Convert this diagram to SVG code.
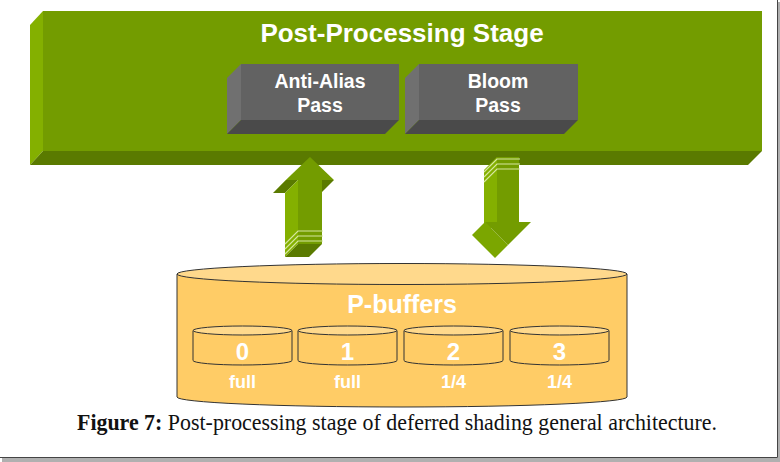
<svg xmlns="http://www.w3.org/2000/svg" width="780" height="462" viewBox="0 0 780 462">
<style>
.gf{fill:#739c00}
.gl{fill:#84b000}
.gd{fill:#5a7a00}
.gm{fill:#7ba600}
.bf{fill:#626262}
.bl{fill:#707070}
.bd{fill:#4a4a4a}
.t{font-family:"Liberation Sans",Arial,sans-serif;font-weight:bold;fill:#ffffff;text-anchor:middle}
.cyl{fill:#ffcc66;stroke:#333;stroke-width:1}
.cyltop{fill:#ffd98c;stroke:#333;stroke-width:1}
.stripe{fill:none;stroke:#d6e6a0;stroke-width:1.2}
</style>
<rect width="780" height="462" fill="#ffffff"/>

<g id="stage">
  <polygon class="gl" points="43,11 43,151 30,165 30,25"/>
  <polygon class="gd" points="43,151 762,151 748,165 30,165"/>
  <rect class="gf" x="43" y="11" width="719" height="140"/>
  <text class="t" x="402" y="42" font-size="26">Post-Processing Stage</text>
</g>

<g id="antialias">
  <polygon class="bl" points="241,64 241,120 227,134 227,78"/>
  <polygon class="bd" points="241,120 399,120 385,134 227,134"/>
  <rect class="bf" x="241" y="64" width="158" height="56"/>
  <text class="t" x="320" y="88" font-size="19.5">Anti-Alias</text>
  <text class="t" x="320" y="112" font-size="19.5">Pass</text>
</g>

<g id="bloom">
  <polygon class="bl" points="419,64 419,120 405,134 405,78"/>
  <polygon class="bd" points="419,120 578,120 564,134 405,134"/>
  <rect class="bf" x="419" y="64" width="159" height="56"/>
  <text class="t" x="498" y="88" font-size="19.5">Bloom</text>
  <text class="t" x="498" y="112" font-size="19.5">Pass</text>
</g>

<g id="connectors">
  <g id="arrow-up">
    <polygon class="gl" points="310,157 286,180 273,193 297,170"/>
    <polygon class="gd" points="286,180 298,180 285,193 273,193"/>
    <polygon class="gd" points="322,180 334,180 321,193 309,193"/>
    <polygon class="gl" points="298,180 298,244 285,257 285,193"/>
    <polygon class="gd" points="298,244 322,244 309,257 285,257"/>
    <polygon class="gf" points="310,157 334,180 322,180 322,244 298,244 298,180 286,180"/>
    <polyline class="stripe" points="285,244 298,231 323,231"/>
    <polyline class="stripe" points="285,249 298,236 323,236"/>
    <polyline class="stripe" points="285,254 298,241 323,241"/>
  </g>
  <g id="arrow-down">
    <polygon class="gl" points="497,157 497,222 484,235 484,170"/>
    <polygon class="gm" points="485,222 508,245 495,258 472,235"/>
    <polygon class="gf" points="497,157 519,157 519,222 531,222 508,245 485,222 497,222"/>
    <polyline class="stripe" points="484,172 497,159 520,159"/>
    <polyline class="stripe" points="484,177 497,164 520,164"/>
    <polyline class="stripe" points="484,182 497,169 520,169"/>
  </g>
</g>

<g id="pbuffers">
  <path class="cyl" d="M177,274 V397 A225,10 0 0 0 627,397 V274 Z"/>
  <ellipse class="cyltop" cx="402" cy="274" rx="225" ry="10.5"/>
  <text class="t" x="402" y="313" font-size="25">P-buffers</text>
</g>

<g id="buf0">
  <path class="cyl" d="M193,330.5 V360.5 A49.5,4.5 0 0 0 292,360.5 V330.5 Z"/>
  <ellipse class="cyltop" cx="242.5" cy="330.5" rx="49.5" ry="4.5"/>
  <text class="t" x="242.5" y="360" font-size="24">0</text>
  <text class="t" x="242.5" y="388" font-size="18">full</text>
</g>
<g id="buf1">
  <path class="cyl" d="M298,330.5 V360.5 A49.5,4.5 0 0 0 397,360.5 V330.5 Z"/>
  <ellipse class="cyltop" cx="347.5" cy="330.5" rx="49.5" ry="4.5"/>
  <text class="t" x="347.5" y="360" font-size="24">1</text>
  <text class="t" x="347.5" y="388" font-size="18">full</text>
</g>
<g id="buf2">
  <path class="cyl" d="M404,330.5 V360.5 A49.5,4.5 0 0 0 503,360.5 V330.5 Z"/>
  <ellipse class="cyltop" cx="453.5" cy="330.5" rx="49.5" ry="4.5"/>
  <text class="t" x="453.5" y="360" font-size="24">2</text>
  <text class="t" x="453.5" y="388" font-size="18">1/4</text>
</g>
<g id="buf3">
  <path class="cyl" d="M510,330.5 V360.5 A49.5,4.5 0 0 0 609,360.5 V330.5 Z"/>
  <ellipse class="cyltop" cx="559.5" cy="330.5" rx="49.5" ry="4.5"/>
  <text class="t" x="559.5" y="360" font-size="24">3</text>
  <text class="t" x="559.5" y="388" font-size="18">1/4</text>
</g>

<g id="caption">
  <text x="77" y="430" font-family="'Liberation Serif','Times New Roman',serif" font-size="23" fill="#111" textLength="640" lengthAdjust="spacingAndGlyphs"><tspan font-weight="bold">Figure 7:</tspan> Post-processing stage of deferred shading general architecture.</text>
</g>

<g id="frame">
  <rect x="778" y="2" width="2" height="460" fill="#b0b0b0"/>
  <rect x="2" y="458" width="778" height="4" fill="#b0b0b0"/>
  <path d="M777.5,0 V457.5 H0" fill="none" stroke="#444" stroke-width="1"/>
</g>
</svg>
